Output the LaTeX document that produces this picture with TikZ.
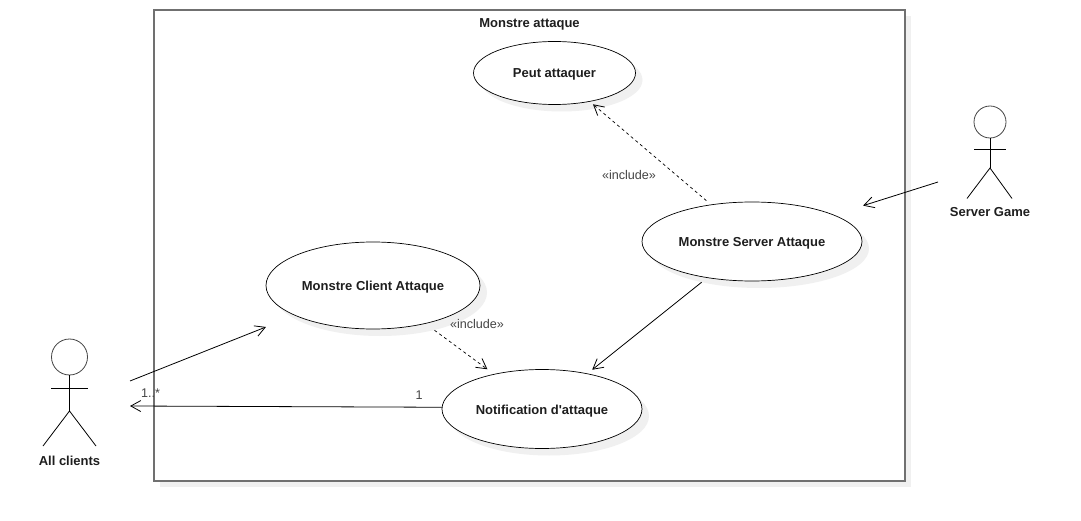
\documentclass[tikz,border=0pt]{standalone}
\usepackage{fontspec}
\setmainfont{Liberation Sans}[Ligatures=TeXOff]
\usetikzlibrary{arrows.meta,shapes.geometric,shadows}
\definecolor{shadowgray}{HTML}{F0F0F0}
\definecolor{framegray}{HTML}{707070}
\definecolor{labelgray}{HTML}{444444}
\definecolor{textdark}{HTML}{1E1E1E}
\tikzset{
  usecase/.style={ellipse,draw=black,line width=0.7pt,fill=white,inner sep=0pt,
    general shadow={shadow xshift=7pt,shadow yshift=-7pt,fill=shadowgray},
    font=\bfseries\fontsize{13}{15}\selectfont,text=textdark,text height=12pt,text depth=2pt},
  sysbox/.style={rectangle,draw=framegray,line width=1.2pt,fill=white,inner sep=0pt,
    general shadow={shadow xshift=6pt,shadow yshift=-6pt,fill=shadowgray}},
  title/.style={font=\bfseries\fontsize{13}{15}\selectfont,text=textdark,inner sep=0pt,text height=12pt,text depth=2pt},
  edgelabel/.style={font=\fontsize{12.6}{15}\selectfont,text=labelgray,inner sep=0pt,text height=12pt,text depth=2pt},
  head/.style={circle,draw=labelgray,line width=0.8pt,inner sep=0pt},
  limb/.style={draw=black,line width=0.8pt},
  assoc/.style={draw=black,line width=0.8pt,-{Straight Barb[length=10pt,width=11pt,line width=0.8pt]}},
  incl/.style={assoc,line width=0.7pt,dash pattern=on 3pt off 3pt},
}
\begin{document}
\begin{tikzpicture}[x=1pt,y=-1pt]
\useasboundingbox (0,0) rectangle (1081,521);
% system boundary
\node[sysbox,minimum width=751pt,minimum height=471pt] (sys) at (529.5,245.5) {};
\node[title] (systitle) at (529.5,22.5) {Monstre attaque};
% use cases
\node[usecase,minimum width=162pt,minimum height=63pt] (peut) at (554.5,73) {Peut attaquer};
\node[usecase,minimum width=220pt,minimum height=79pt] (srv) at (752,241.5) {Monstre Server Attaque};
\node[usecase,minimum width=214pt,minimum height=87pt] (cli) at (373,285.5) {Monstre Client Attaque};
\node[usecase,minimum width=200pt,minimum height=79pt] (notif) at (542,409) {Notification d'attaque};
% actor: all clients
\node[head,minimum size=36pt] (allhead) at (69.5,357) {};
\coordinate (allhip) at (69.5,411);
\coordinate (allarmL) at (51,388);
\coordinate (allarmR) at (88,388);
\coordinate (alllegL) at (43,446);
\coordinate (alllegR) at (96,446);
\draw[limb] (allhead.south) -- (allhip);
\draw[limb] (allarmL) -- (allarmR);
\draw[limb] (alllegL) -- (allhip) -- (alllegR);
\node[title] (alllabel) at (69.5,460.5) {All clients};
% actor: server game
\node[head,minimum size=32pt] (gamehead) at (990,122) {};
\coordinate (gamehip) at (990,168);
\coordinate (gamearmL) at (974,149);
\coordinate (gamearmR) at (1006,149);
\coordinate (gamelegL) at (967,198.5);
\coordinate (gamelegR) at (1012,198.5);
\draw[limb] (gamehead.south) -- (gamehip);
\draw[limb] (gamearmL) -- (gamearmR);
\draw[limb] (gamelegL) -- (gamehip) -- (gamelegR);
\node[title] (gamelabel) at (990,212) {Server Game};
% free ends near the actors
\coordinate (allout) at (130,381);
\coordinate (allin) at (130,406);
\coordinate (gameout) at (938,182);
% connectors
\draw[assoc,shorten >=31pt] (allout) -- (cli.201.1);
\draw[assoc] (notif.179.5) -- (allin);
\draw[assoc,shorten >=30.5pt] (gameout) -- (srv.18.6);
\draw[assoc,shorten <=7pt,shorten >=6pt] (srv.219) -- (notif.38.66);
\draw[incl,shorten <=6pt,shorten >=4pt] (srv.138.5) -- (peut.-39.7);
\draw[incl,shorten <=11pt,shorten >=8pt] (cli.-36.1) -- (notif.144);
% labels
\node[edgelabel] (lblone) at (150.5,392) {1..*};
\node[edgelabel] (lbltwo) at (419,394) {1};
\node[edgelabel] (lblinc) at (629,174.5) {«include»};
\node[edgelabel] (lblincb) at (477,323.5) {«include»};
\end{tikzpicture}
\end{document}
